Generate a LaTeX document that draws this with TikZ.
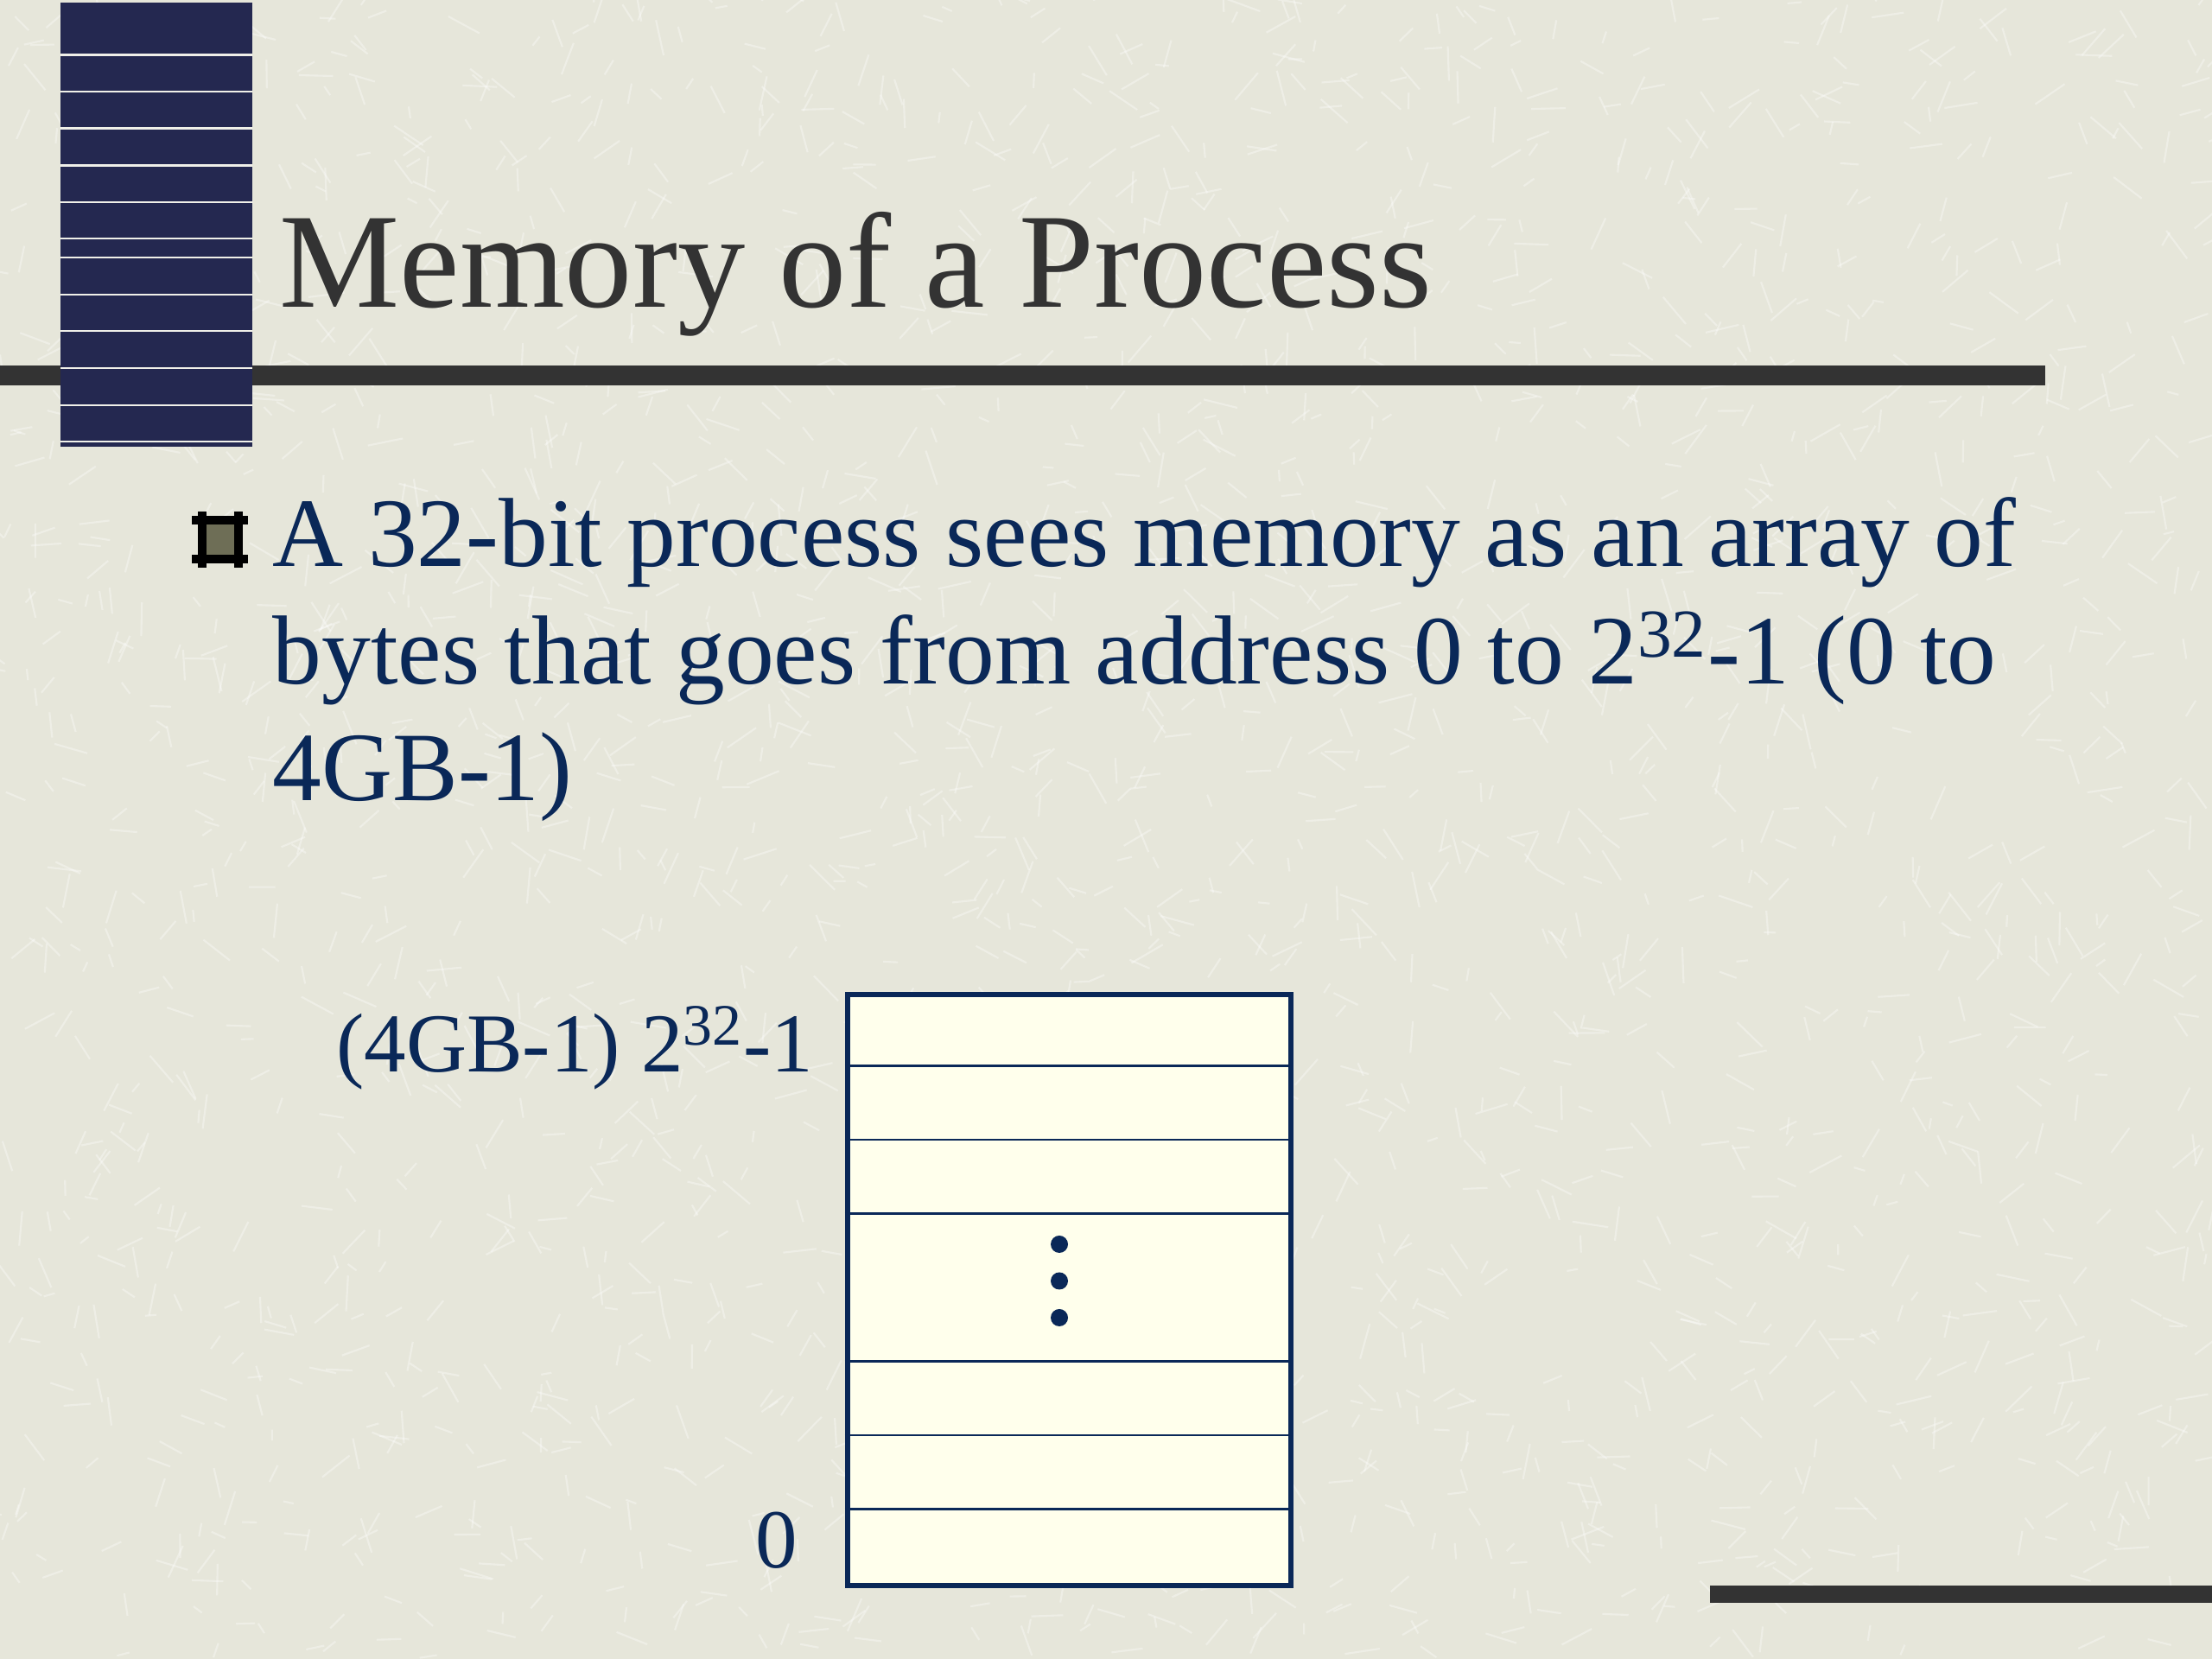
\documentclass[tikz,border=0pt]{standalone}
\usepackage{fontspec}
\setmainfont{Liberation Serif}
\begin{document}
\begin{tikzpicture}

  \definecolor{paper}{RGB}{230,230,218}
  \definecolor{navy}{RGB}{10,40,88}
  \definecolor{ink}{RGB}{51,51,51}
  \definecolor{cream}{RGB}{255,255,236}
  \definecolor{spine}{RGB}{36,40,80}
  \definecolor{olive}{RGB}{110,110,86}

  \tikzstyle{straw} = [white, opacity=0.35, line width=0.6pt]
  \tikzstyle{band} = [fill=ink]
  \tikzstyle{stripe} = [paper!60!white, line width=0.8pt]
  \tikzstyle{cell} = [navy, line width=0.7pt]
  \tikzstyle{label} = [anchor=base east, inner sep=0, text=navy, font=\fontsize{27.6}{32}\selectfont]
  \tikzstyle{textline} = [anchor=base west, inner sep=0, text=navy, font=\fontsize{32.3}{38}\selectfont]

  \useasboundingbox (0,0) rectangle (25.6,19.2);
  \fill[paper] (0,0) rectangle (25.6,19.2);

  % paper texture
  \pgfmathsetseed{7}
  \foreach \i in {1,...,2400} {
    \pgfmathsetmacro\tx{rnd*25.6}
    \pgfmathsetmacro\ty{rnd*19.2}
    \pgfmathsetmacro\ta{rnd*180}
    \pgfmathsetmacro\tl{0.12+rnd*0.3}
    \draw[straw] (\tx,\ty) -- ++(\ta:\tl);
  }

  % title bar and spine
  \fill[band] (0,14.74) rectangle (23.67,14.97);
  \fill[spine] (0.70,14.03) rectangle (2.92,19.17);
  \foreach \s in {0.636,1.06,1.486,1.914,2.34,2.76,2.98,3.41,3.83,4.26,4.69,5.11}
    \draw[stripe] (0.70,{19.2-\s}) -- (2.92,{19.2-\s});

  \node[anchor=base west, inner sep=0, text=ink, font=\fontsize{44.5}{50}\selectfont] (title) at (3.23,15.64) {Memory of a Process};

  % bullet
  \fill[olive] (2.34,12.73) rectangle (2.76,13.18);
  \draw[black, line width=2.8pt] (2.34,12.63) -- (2.34,13.28);
  \draw[black, line width=2.8pt] (2.76,12.63) -- (2.76,13.28);
  \draw[black, line width=2.8pt] (2.22,13.18) -- (2.87,13.18);
  \draw[black, line width=2.8pt] (2.22,12.73) -- (2.87,12.73);

  \node[textline] (line1) at (3.15,12.64) {A 32-bit process sees memory as an array of};
  \node[textline] (line2) at (3.15,11.28) {bytes that goes from address 0 to 2\textsuperscript{32}-1 (0 to};
  \node[textline] (line3) at (3.15,9.93) {4GB-1)};

  % memory array
  \node[draw=navy, fill=cream, line width=1.8pt, minimum width=5.13cm, minimum height=6.84cm, inner sep=0] (mem) at (12.375,4.27) {};
  \foreach \k in {1,2,3,5,6,7}
    \draw[cell] ([yshift=-\k*0.855cm]mem.north west) -- ([yshift=-\k*0.855cm]mem.north east);
  \foreach \d in {4.80,4.375,3.95}
    \fill[navy] (12.26,\d) circle (0.1);

  \node[label] (top) at (9.42,6.79) {(4GB-1) 2\textsuperscript{32}-1};
  \node[label] (bottom) at (9.24,1.05) {0};

  \fill[band] (19.79,0.65) rectangle (25.6,0.85);

\end{tikzpicture}
\end{document}
